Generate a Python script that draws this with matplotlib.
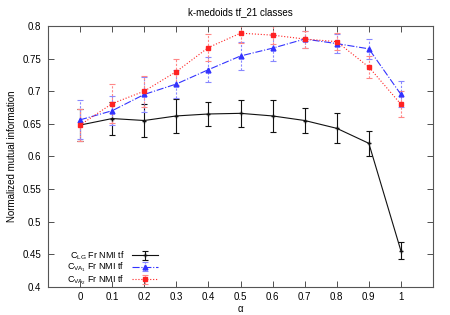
import matplotlib
matplotlib.use("Agg")
import matplotlib.pyplot as plt
from matplotlib.ticker import FixedLocator, FuncFormatter

alpha = [0, 0.1, 0.2, 0.3, 0.4, 0.5, 0.6, 0.7, 0.8, 0.9, 1.0]
clg = [0.648, 0.658, 0.655, 0.662, 0.665, 0.666, 0.662, 0.655, 0.643, 0.620, 0.455]
clg_err = [0.024, 0.025, 0.025, 0.026, 0.019, 0.021, 0.024, 0.019, 0.023, 0.019, 0.013]
va1 = [0.656, 0.670, 0.695, 0.711, 0.733, 0.754, 0.766, 0.780, 0.773, 0.765, 0.695]
va1_err = [0.030, 0.022, 0.027, 0.022, 0.019, 0.022, 0.020, 0.013, 0.015, 0.015, 0.020]
va2 = [0.648, 0.681, 0.700, 0.730, 0.767, 0.789, 0.786, 0.780, 0.776, 0.737, 0.680]
va2_err = [0.025, 0.030, 0.024, 0.020, 0.021, 0.015, 0.014, 0.013, 0.013, 0.017, 0.020]
labels = [r"$C_{LG}$ Fr NMI tf", r"$C_{VA_1}$ Fr NMI tf", r"$C_{VA_2}$ Fr NMI tf"]
title = "k-medoids tf_21 classes"
xticks = [0, 0.1, 0.2, 0.3, 0.4, 0.5, 0.6, 0.7, 0.8, 0.9, 1]
yticks = [0.4, 0.45, 0.5, 0.55, 0.6, 0.65, 0.7, 0.75, 0.8]

plt.rcParams['font.family'] = ['Liberation Sans', 'DejaVu Sans']
plt.rcParams['mathtext.fontset'] = 'custom'
plt.rcParams['mathtext.rm'] = 'Liberation Sans'
plt.rcParams['mathtext.it'] = 'Liberation Sans'
fs = 7

fig = plt.figure(figsize=(4.5, 3.15), dpi=100)
ax = fig.add_axes([48/450, 1-286.7/315, (433-48)/450, (286.7-26)/315])

e1 = ax.errorbar(alpha, clg, yerr=clg_err, color='#111111', lw=0.8, capsize=2.5,
                 elinewidth=0.8, capthick=0.8, marker='+', ms=3, label=labels[0])
e2 = ax.errorbar(alpha, va1, yerr=va1_err, color='#3333ff', lw=0.8, ls='-.',
                 capsize=2.5, elinewidth=0.8, capthick=0.8, marker='^', ms=3.5,
                 ecolor='#8888ff', label=labels[1])
e3 = ax.errorbar(alpha, va2, yerr=va2_err, color='#ff2222', lw=0.8, ls=':',
                 capsize=2.5, elinewidth=0.8, capthick=0.8, marker='s', ms=3,
                 ecolor='#ff8888', label=labels[2])
for e in (e2, e3):
    for lc in e[2]:
        lc.set_linestyle((0, (2, 1.5)))

ax.set_xlim(-0.1, 1.1)
ax.set_ylim(0.4, 0.8)
ax.xaxis.set_major_locator(FixedLocator(xticks))
ax.yaxis.set_major_locator(FixedLocator(yticks))
ax.xaxis.set_major_formatter(FuncFormatter(lambda v, p: f"{v:g}"))
ax.yaxis.set_major_formatter(FuncFormatter(lambda v, p: f"{v:g}"))
ax.tick_params(direction='in', top=True, right=True, labelsize=fs, length=4, width=0.6,
               color='#333333')
ax.tick_params(axis='x', pad=3.5)
ax.tick_params(axis='y', pad=5)
for s in ax.spines.values():
    s.set_linewidth(0.8)
    s.set_color('#555555')
ax.set_title(title, fontsize=fs, pad=8)
ax.set_xlabel(r"$\alpha$", fontsize=fs, labelpad=2)
ax.set_ylabel("Normalized mutual information", fontsize=fs)

leg = ax.legend(loc='lower right', bbox_to_anchor=(158/450, 1-287/315),
                bbox_transform=fig.transFigure, frameon=False, fontsize=6.5,
                markerfirst=False, handlelength=2.9, labelspacing=-0.1,
                borderaxespad=0, borderpad=0, handletextpad=0.8)
for t in leg.get_texts():
    t.set_ha('right')
leg._legend_box.align = 'right'

fig.savefig("out.png", dpi=100)
